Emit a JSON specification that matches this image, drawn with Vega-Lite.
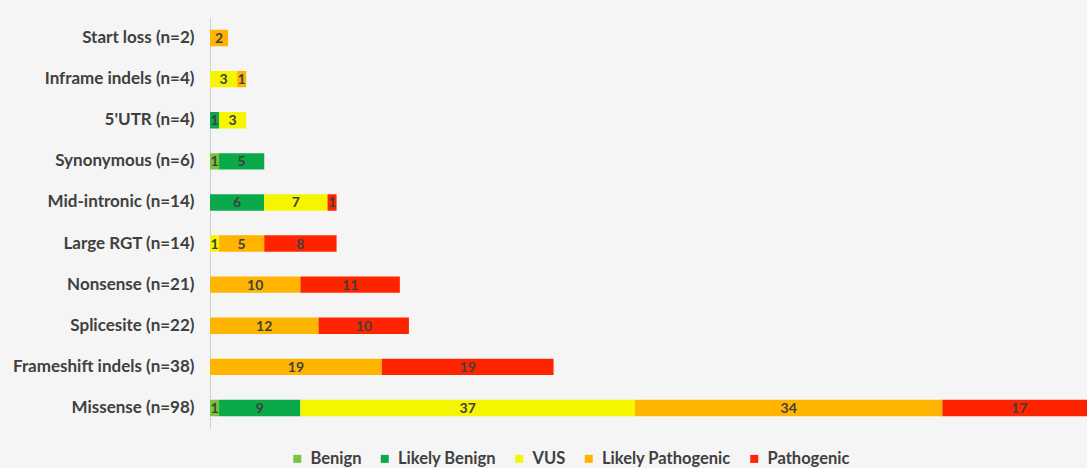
{
  "$schema": "https://vega.github.io/schema/vega-lite/v6.json",
  "autosize": {"type": "none"},
  "width": 877,
  "height": 411,
  "padding": {"left": 210, "top": 17.5, "right": 0, "bottom": 39.5},
  "background": "#f5f5f5",
  "config": {
    "view": {"stroke": null},
    "font": "Lato",
    "legend": {
      "orient": "none",
      "direction": "horizontal",
      "legendX": 79,
      "legendY": 433,
      "padding": 0,
      "symbolType": "square",
      "symbolSize": 64,
      "symbolStrokeWidth": 0,
      "labelFont": "Lato",
      "labelFontSize": 16.5,
      "labelFontWeight": "bold",
      "labelColor": "#404040",
      "columnPadding": 14.5,
      "labelOffset": 5,
      "title": null
    }
  },
  "data": {
    "values": [
      {"cat": "Start loss (n=2)", "cls": "Likely Pathogenic", "o": 4, "v": 2},
      {"cat": "Inframe indels (n=4)", "cls": "VUS", "o": 3, "v": 3},
      {"cat": "Inframe indels (n=4)", "cls": "Likely Pathogenic", "o": 4, "v": 1},
      {"cat": "5'UTR (n=4)", "cls": "Likely Benign", "o": 2, "v": 1},
      {"cat": "5'UTR (n=4)", "cls": "VUS", "o": 3, "v": 3},
      {"cat": "Synonymous (n=6)", "cls": "Benign", "o": 1, "v": 1},
      {"cat": "Synonymous (n=6)", "cls": "Likely Benign", "o": 2, "v": 5},
      {"cat": "Mid-intronic (n=14)", "cls": "Likely Benign", "o": 2, "v": 6},
      {"cat": "Mid-intronic (n=14)", "cls": "VUS", "o": 3, "v": 7},
      {"cat": "Mid-intronic (n=14)", "cls": "Pathogenic", "o": 5, "v": 1},
      {"cat": "Large RGT (n=14)", "cls": "VUS", "o": 3, "v": 1},
      {"cat": "Large RGT (n=14)", "cls": "Likely Pathogenic", "o": 4, "v": 5},
      {"cat": "Large RGT (n=14)", "cls": "Pathogenic", "o": 5, "v": 8},
      {"cat": "Nonsense (n=21)", "cls": "Likely Pathogenic", "o": 4, "v": 10},
      {"cat": "Nonsense (n=21)", "cls": "Pathogenic", "o": 5, "v": 11},
      {"cat": "Splicesite (n=22)", "cls": "Likely Pathogenic", "o": 4, "v": 12},
      {"cat": "Splicesite (n=22)", "cls": "Pathogenic", "o": 5, "v": 10},
      {"cat": "Frameshift indels (n=38)", "cls": "Likely Pathogenic", "o": 4, "v": 19},
      {"cat": "Frameshift indels (n=38)", "cls": "Pathogenic", "o": 5, "v": 19},
      {"cat": "Missense (n=98)", "cls": "Benign", "o": 1, "v": 1},
      {"cat": "Missense (n=98)", "cls": "Likely Benign", "o": 2, "v": 9},
      {"cat": "Missense (n=98)", "cls": "VUS", "o": 3, "v": 37},
      {"cat": "Missense (n=98)", "cls": "Likely Pathogenic", "o": 4, "v": 34},
      {"cat": "Missense (n=98)", "cls": "Pathogenic", "o": 5, "v": 17}
    ]
  },
  "transform": [
    {"stack": "v", "groupby": ["cat"], "sort": [{"field": "o", "order": "ascending"}], "as": ["s", "e"]}
  ],
  "encoding": {
    "y": {
      "field": "cat",
      "type": "nominal",
      "sort": ["Start loss (n=2)", "Inframe indels (n=4)", "5'UTR (n=4)", "Synonymous (n=6)", "Mid-intronic (n=14)", "Large RGT (n=14)", "Nonsense (n=21)", "Splicesite (n=22)", "Frameshift indels (n=38)", "Missense (n=98)"],
      "scale": {"paddingInner": 0.6, "paddingOuter": 0.3},
      "axis": {
        "title": null,
        "ticks": false,
        "domainColor": "#d0d0d0",
        "domainWidth": 1,
        "labelFont": "Lato",
        "labelFontSize": 17,
        "labelFontWeight": "bold",
        "labelColor": "#404040",
        "labelPadding": 16,
        "labelLimit": 300
      }
    }
  },
  "layer": [
    {
      "mark": {"type": "bar", "clip": true},
      "encoding": {
        "x": {"field": "s", "type": "quantitative", "scale": {"domain": [0, 97], "nice": false, "zero": true}, "axis": null},
        "x2": {"field": "e"},
        "color": {
          "field": "cls",
          "type": "nominal",
          "scale": {
            "domain": ["Benign", "Likely Benign", "VUS", "Likely Pathogenic", "Pathogenic"],
            "range": ["#78c43c", "#0aaa4a", "#f5f500", "#ffb400", "#ff2400"]
          },
          "legend": {}
        }
      }
    },
    {
      "transform": [
        {"fold": ["s", "e"], "as": ["edge", "pos"]},
        {"aggregate": [{"op": "mean", "field": "pos", "as": "mid"}], "groupby": ["cat", "cls", "v"]}
      ],
      "mark": {"type": "text", "font": "Lato", "fontSize": 14, "fontWeight": "bold", "color": "#404040", "baseline": "middle", "dy": 1},
      "encoding": {
        "x": {"field": "mid", "type": "quantitative", "scale": {"domain": [0, 97], "nice": false}, "axis": null},
        "text": {"field": "v", "type": "quantitative"}
      }
    }
  ]
}
